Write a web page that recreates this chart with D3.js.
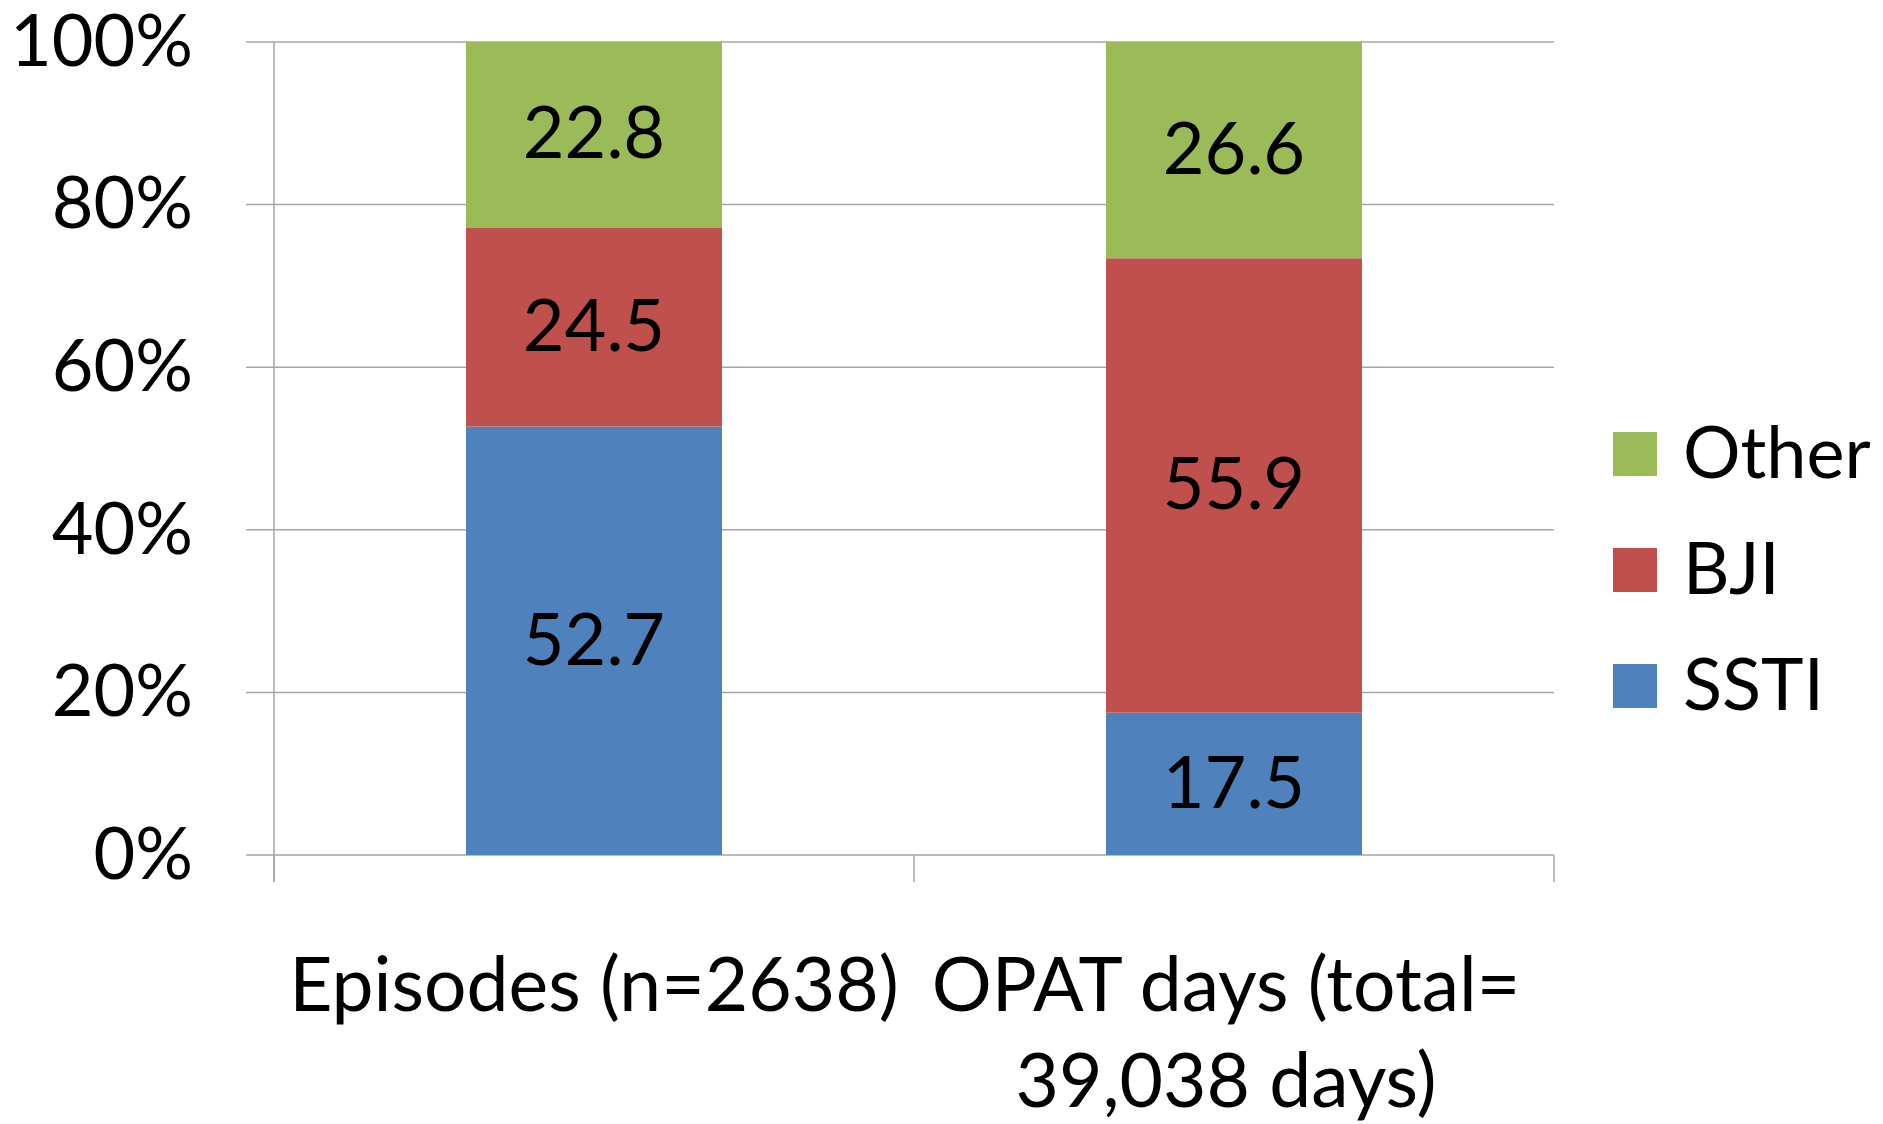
<!DOCTYPE html>
<html>
<head>
<meta charset="utf-8">
<script src="https://cdn.jsdelivr.net/npm/d3@7"></script>
<style>
  body { margin: 0; background: #fff; }
  text { font-family: Lato, "Noto Sans", sans-serif; fill: #000; }
</style>
</head>
<body>
<svg id="chart" width="1883" height="1124"></svg>
<script>
// data
const categories = ["Episodes (n=2638)", "OPAT days (total= 39,038 days)"];
const categoryLines = [["Episodes (n=2638)"], ["OPAT days (total=", "39,038 days)"]];
const seriesNames = ["SSTI", "BJI", "Other"];
const sstiValues = [52.7, 17.5];
const bjiValues = [24.5, 55.9];
const otherValues = [22.8, 26.6];
const yTicks = [0, 20, 40, 60, 80, 100];
const colors = ["#4F81BD", "#C0504D", "#9BBB59"];

const svg = d3.select("#chart");

const plotLeft = 274, plotRight = 1554, plotTop = 42, plotBottom = 855;
const fontSize = 72;

const x = d3.scaleBand()
    .domain(categories)
    .range([plotLeft, plotRight])
    .paddingInner(0.6)
    .paddingOuter(0.3);

const y = d3.scaleLinear()
    .domain([0, 100])
    .range([plotBottom, plotTop]);

// gridlines + y tick marks
svg.append("g")
    .selectAll("line")
    .data(yTicks)
    .enter()
    .append("line")
    .attr("x1", plotLeft - 28)
    .attr("x2", plotRight)
    .attr("y1", d => y(d))
    .attr("y2", d => y(d))
    .attr("stroke", "#a6a6a6")
    .attr("stroke-width", 1.5);

// y tick labels
svg.append("g")
    .selectAll("text")
    .data(yTicks)
    .enter()
    .append("text")
    .attr("x", 193)
    .attr("y", d => y(d) + fontSize * 0.33)
    .attr("text-anchor", "end")
    .attr("font-size", fontSize)
    .text(d => d + "%");

// stack the series
const rows = categories.map((c, i) => ({
    cat: c, SSTI: sstiValues[i], BJI: bjiValues[i], Other: otherValues[i]
}));
const stacked = d3.stack().keys(seriesNames)(rows);

const layers = svg.append("g")
    .selectAll("g")
    .data(stacked)
    .enter()
    .append("g")
    .attr("fill", (d, i) => colors[i]);

layers.selectAll("rect")
    .data(d => d)
    .enter()
    .append("rect")
    .attr("x", d => x(d.data.cat))
    .attr("y", d => y(d[1]))
    .attr("width", x.bandwidth())
    .attr("height", d => y(d[0]) - y(d[1]));

layers.selectAll("text")
    .data(d => d.map(s => ({ s: s, key: d.key })))
    .enter()
    .append("text")
    .attr("x", d => x(d.s.data.cat) + x.bandwidth() / 2)
    .attr("y", d => y((d.s[0] + d.s[1]) / 2) + fontSize * 0.33)
    .attr("text-anchor", "middle")
    .attr("font-size", fontSize)
    .text(d => d.s.data[d.key].toFixed(1));

// axis lines
svg.append("line")
    .attr("x1", plotLeft).attr("x2", plotLeft)
    .attr("y1", plotTop).attr("y2", plotBottom + 27)
    .attr("stroke", "#a6a6a6").attr("stroke-width", 1.5);

const xTicks = [plotLeft, (plotLeft + plotRight) / 2, plotRight];
svg.append("g")
    .selectAll("line")
    .data(xTicks)
    .enter()
    .append("line")
    .attr("x1", d => d).attr("x2", d => d)
    .attr("y1", plotBottom).attr("y2", plotBottom + 27)
    .attr("stroke", "#a6a6a6").attr("stroke-width", 1.5);

// category labels (wrapped one sits a bit left, like the original)
const catLabels = svg.append("g")
    .selectAll("text")
    .data(categories)
    .enter()
    .append("text")
    .attr("text-anchor", "middle")
    .attr("font-size", 75)
    .attr("y", 1011);

catLabels.selectAll("tspan")
    .data((d, i) => categoryLines[i].map(l => ({ l: l, c: d, wrapped: categoryLines[i].length > 1 })))
    .enter()
    .append("tspan")
    .attr("x", d => x(d.c) + x.bandwidth() / 2 - (d.wrapped ? 8 : 0))
    .attr("dy", (d, i) => i === 0 ? 0 : 96)
    .text(d => d.l);

// legend
const legendNames = seriesNames.slice().reverse();
const legend = svg.append("g")
    .selectAll("g")
    .data(legendNames)
    .enter()
    .append("g")
    .attr("transform", (d, i) => `translate(1613, ${454 + i * 116})`);

legend.append("rect")
    .attr("x", 0)
    .attr("y", -22)
    .attr("width", 44)
    .attr("height", 44)
    .attr("fill", d => colors[seriesNames.indexOf(d)]);

legend.append("text")
    .attr("x", 70)
    .attr("y", fontSize * 0.33)
    .attr("font-size", fontSize)
    .text(d => d);
</script>
</body>
</html>
